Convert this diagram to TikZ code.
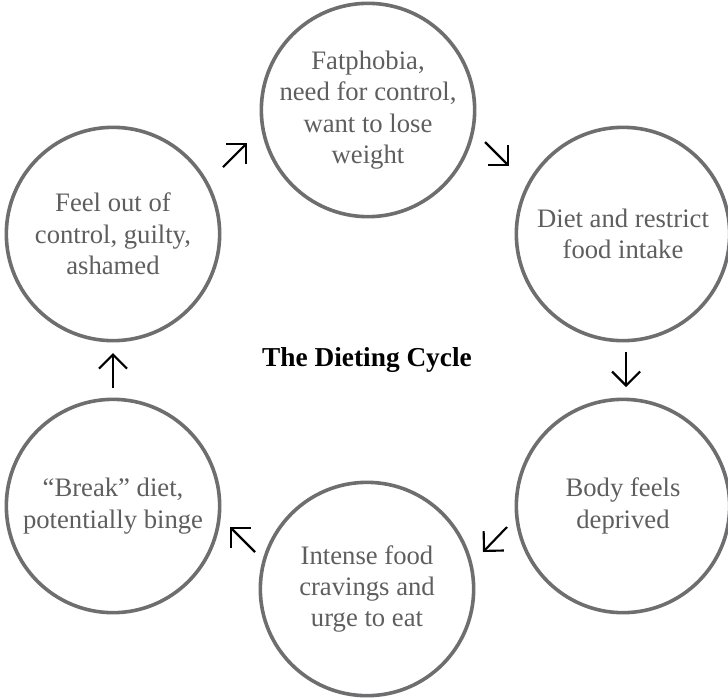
\documentclass[tikz,border=0pt]{standalone}
\usepackage{fontspec}
\setmainfont{Liberation Serif}
\usetikzlibrary{arrows.meta}
\definecolor{ringgray}{HTML}{6E6E70}
\definecolor{textgray}{HTML}{5E5E5E}
\begin{document}
\begin{tikzpicture}[x=0.75pt,y=-0.75pt,
  stage/.style={circle,draw=ringgray,line width=2.7pt,minimum size=160pt,inner sep=0pt,
    align=center,text=textgray,font=\fontsize{20}{23.5}\selectfont},
  cyclearrow/.style={line width=1.6pt,-{Straight Barb[length=10.5pt,width=21pt,line width=1.6pt]}}]
\useasboundingbox (0,0) rectangle (728,697);
\node[stage] (top) at (368,110) {Fatphobia,\\need for control,\\want to lose\\weight};
\node[stage] (ru) at (623,234) {Diet and restrict\\food intake};
\node[stage] (rl) at (623,506) {Body feels\\deprived};
\node[stage] (bot) at (367,589) {Intense food\\cravings and\\urge to eat};
\node[stage] (ll) at (113,506) {“Break” diet,\\potentially binge};
\node[stage] (lu) at (113,234) {Feel out of\\control, guilty,\\ashamed};
\node[font=\fontsize{20.5}{24}\selectfont\bfseries] (title) at (367,360) {The Dieting Cycle};
\coordinate (a1s) at (223,167); \coordinate (a1e) at (247,143);
\coordinate (a2s) at (485,142); \coordinate (a2e) at (509,166);
\coordinate (a3s) at (626,352); \coordinate (a3e) at (626,387);
\coordinate (a4s) at (507,527); \coordinate (a4e) at (483,552);
\coordinate (a5s) at (255,552); \coordinate (a5e) at (230,527);
\coordinate (a6s) at (113,388); \coordinate (a6e) at (113,353);
\draw[cyclearrow] (a1s) -- (a1e);
\draw[cyclearrow] (a2s) -- (a2e);
\draw[cyclearrow] (a3s) -- (a3e);
\draw[cyclearrow] (a4s) -- (a4e);
\draw[cyclearrow] (a5s) -- (a5e);
\draw[cyclearrow] (a6s) -- (a6e);
\end{tikzpicture}
\end{document}
